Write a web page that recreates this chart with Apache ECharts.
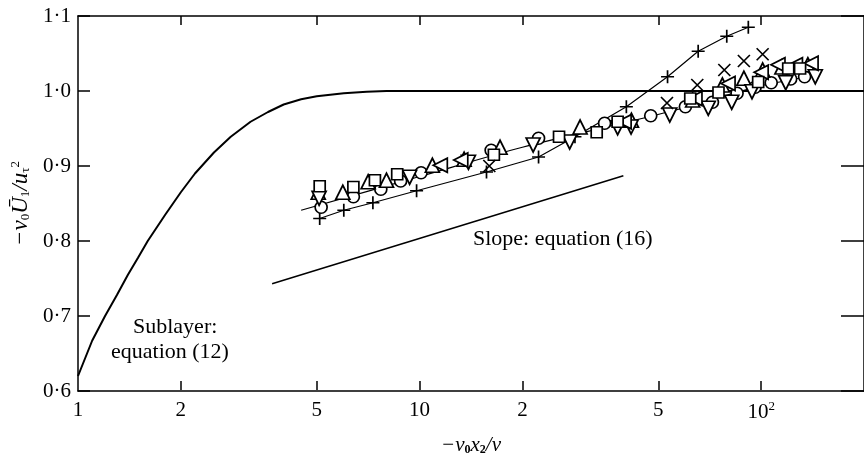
<!DOCTYPE html>
<html>
<head>
<meta charset="utf-8">
<script src="https://cdn.jsdelivr.net/npm/echarts@6/dist/echarts.min.js"></script>
<style>
html, body { margin: 0; padding: 0; background: #fff; }
#main { width: 864px; height: 461px; }
</style>
</head>
<body>
<div id="main"></div>
<script>
// tick values / labels of the log x axis
var xTickValues = [1, 2, 5, 10, 20, 50, 100];
var xTickLabels = ['1', '2', '5', '10', '2', '5', '10{sup|2}'];

// sublayer curve, equation (12)
var sublayerX = [1, 1.1, 1.2, 1.3, 1.4, 1.5, 1.6, 1.8, 2, 2.2, 2.5, 2.8, 3.2, 3.6, 4, 4.5, 5, 6, 7, 8, 10, 200];
var sublayerY = [0.62, 0.667, 0.70, 0.728, 0.755, 0.778, 0.80, 0.835, 0.865, 0.89, 0.918, 0.939, 0.959, 0.972, 0.982, 0.989, 0.993, 0.997, 0.999, 1.0, 1.0, 1.0];

// slope line, equation (16)
var slopeX = [3.7, 39.5];
var slopeY = [0.743, 0.887];

// upper fitted line through the open symbols
var fitX = [4.5, 10, 20, 40, 60, 80, 100, 140];
var fitY = [0.841, 0.886, 0.925, 0.958, 0.978, 0.995, 1.007, 1.02];

// + points (joined by a line)
var plusX = [5.1, 6.0, 7.3, 9.8, 15.7, 22.3, 28.5, 40.3, 53.2, 65.4, 79.3, 91.7];
var plusY = [0.830, 0.841, 0.851, 0.867, 0.892, 0.912, 0.939, 0.979, 1.019, 1.053, 1.073, 1.085];

// open circles
var circleX = [5.15, 6.4, 7.7, 8.8, 10.1, 16.2, 22.3, 34.8, 47.5, 60, 72, 85, 96, 107, 122, 134];
var circleY = [0.845, 0.859, 0.869, 0.880, 0.891, 0.921, 0.937, 0.957, 0.967, 0.979, 0.985, 0.997, 1.005, 1.011, 1.016, 1.019];

// triangles pointing up
var triUpX = [5.05, 5.96, 7.07, 8.0, 10.9, 13.5, 17.2, 29.5, 41.7, 63, 77, 89, 101, 115, 137];
var triUpY = [0.865, 0.865, 0.879, 0.881, 0.901, 0.909, 0.925, 0.952, 0.961, 0.988, 1.008, 1.017, 1.028, 1.032, 1.035];

// triangles pointing down
var triDownX = [5.08, 9.35, 13.9, 21.5, 27.5, 38, 41.6, 54, 70, 82, 94, 118, 144];
var triDownY = [0.857, 0.885, 0.905, 0.928, 0.932, 0.951, 0.952, 0.968, 0.977, 0.985, 0.999, 1.011, 1.019];

// triangles pointing left
var triLeftX = [11.5, 13.2, 39.7, 64, 80, 100, 112, 126, 140];
var triLeftY = [0.901, 0.908, 0.959, 0.99, 1.01, 1.025, 1.035, 1.035, 1.037];

// open squares
var squareX = [5.1, 6.4, 7.4, 8.6, 16.5, 25.6, 33, 38, 62, 75, 98, 120, 130];
var squareY = [0.873, 0.872, 0.881, 0.889, 0.915, 0.939, 0.945, 0.959, 0.99, 0.998, 1.012, 1.03, 1.03];

// x crosses
var crossX = [16, 53, 65, 78, 89, 101];
var crossY = [0.9, 0.984, 1.008, 1.028, 1.04, 1.049];

function zip(xs, ys) {
    return xs.map(function (x, i) { return [x, ys[i]]; });
}

var FONT = 'Liberation Serif';
var plusPath = 'path://M5,0L5,10M0,5L10,5';
var crossPath = 'path://M0,0L10,10M10,0L0,10';

function symbolSeries(name, data, symbol, size, rotate) {
    return {
        name: name,
        type: 'scatter',
        xAxisIndex: 0,
        yAxisIndex: 0,
        symbol: symbol,
        symbolSize: size,
        symbolRotate: rotate || 0,
        itemStyle: { color: '#fff', borderColor: '#000', borderWidth: 1.7, opacity: 1 },
        data: data,
        z: 5
    };
}

var tickLog = xTickValues.map(function (v) { return Math.log10(v); });
var xMax = 200;

var myChart = echarts.init(document.getElementById('main'));

option = {
    backgroundColor: '#fff',
    animation: false,
    grid: [
        { left: 78, right: -12, top: 16, bottom: 70 },
        { left: 78, right: -12, top: 16, bottom: 70 }
    ],
    xAxis: [
        {
            // data axis (log)
            type: 'log',
            logBase: 10,
            min: 1,
            max: xMax,
            gridIndex: 0,
            position: 'bottom',
            axisLine: { lineStyle: { color: '#000', width: 1.5 } },
            axisTick: { show: false },
            axisLabel: { show: false },
            splitLine: { show: false },
            minorTick: { show: false }
        },
        {
            // top frame with mirror ticks
            type: 'value',
            min: 0,
            max: Math.log10(xMax),
            gridIndex: 0,
            position: 'top',
            axisLine: { show: true, lineStyle: { color: '#000', width: 1.5 } },
            axisTick: { show: true, inside: true, length: 9, customValues: tickLog.slice(1), lineStyle: { color: '#000', width: 1.5 } },
            axisLabel: { show: false },
            splitLine: { show: false }
        },
        {
            // bottom ticks and labels
            type: 'value',
            min: 0,
            max: Math.log10(xMax),
            gridIndex: 1,
            position: 'bottom',
            axisLine: { show: false },
            axisTick: { show: true, inside: true, length: 9, customValues: tickLog.slice(1), lineStyle: { color: '#000', width: 1.5 } },
            axisLabel: {
                customValues: tickLog,
                margin: 10,
                color: '#000',
                fontFamily: FONT,
                fontSize: 21,
                formatter: function (v) {
                    for (var i = 0; i < tickLog.length; i++) {
                        if (Math.abs(tickLog[i] - v) < 1e-6) return xTickLabels[i];
                    }
                    return '';
                },
                rich: { sup: { fontFamily: FONT, fontSize: 13, color: '#000', padding: [0, 0, 12, 0] } }
            },
            splitLine: { show: false },
            name: '{t|−v}{s|0}{t|x}{s|2}{t|/ν}',
            nameLocation: 'middle',
            nameGap: 44,
            nameTextStyle: {
                rich: {
                    t: { fontFamily: FONT, fontStyle: 'italic', fontSize: 21, color: '#000' },
                    s: { fontFamily: FONT, fontWeight: 'bold', fontSize: 12, color: '#000', padding: [10, 0, 0, 0] }
                }
            }
        }
    ],
    yAxis: [
        {
            type: 'value',
            min: 0.6,
            max: 1.1,
            interval: 0.1,
            gridIndex: 0,
            position: 'left',
            axisLine: { lineStyle: { color: '#000', width: 1.5 } },
            axisTick: { inside: true, length: 12, lineStyle: { color: '#000', width: 1.5 } },
            axisLabel: {
                margin: 7,
                color: '#000',
                fontFamily: FONT,
                fontSize: 21,
                formatter: function (v) { return v.toFixed(1).replace('.', '·'); }
            },
            splitLine: { show: false },
            name: '{t|−v}{s|0}{t|Ū}{s|1}{t|/u}{s|τ}{p|2}',
            nameLocation: 'middle',
            nameRotate: 90,
            nameGap: 41,
            nameTextStyle: {
                rich: {
                    t: { fontFamily: FONT, fontStyle: 'italic', fontSize: 23, color: '#000' },
                    s: { fontFamily: FONT, fontSize: 13, color: '#000', padding: [10, 0, 0, 0] },
                    p: { fontFamily: FONT, fontSize: 13, color: '#000', padding: [0, 0, 10, 0] }
                }
            }
        },
        {
            type: 'value',
            min: 0.6,
            max: 1.1,
            interval: 0.1,
            gridIndex: 0,
            position: 'right',
            axisLine: { show: true, lineStyle: { color: '#000', width: 1.5 } },
            axisTick: { inside: true, length: 23, lineStyle: { color: '#000', width: 1.5 } },
            axisLabel: { show: false },
            splitLine: { show: false }
        },
        {
            type: 'value',
            min: 0.6,
            max: 1.1,
            gridIndex: 1,
            show: false
        }
    ],
    graphic: [
        { type: 'text', left: 133, top: 316, style: { text: 'Sublayer:', font: '22px "Liberation Serif"', fill: '#000' } },
        { type: 'text', left: 111, top: 341, style: { text: 'equation (12)', font: '22px "Liberation Serif"', fill: '#000' } },
        { type: 'text', left: 473, top: 228, style: { text: 'Slope: equation (16)', font: '22px "Liberation Serif"', fill: '#000' } }
    ],
    series: [
        {
            name: 'sublayer',
            type: 'line',
            xAxisIndex: 0, yAxisIndex: 0,
            showSymbol: false,
            lineStyle: { color: '#000', width: 2 },
            data: zip(sublayerX, sublayerY)
        },
        {
            name: 'slope',
            type: 'line',
            xAxisIndex: 0, yAxisIndex: 0,
            showSymbol: false,
            lineStyle: { color: '#000', width: 1.5 },
            data: zip(slopeX, slopeY)
        },
        {
            name: 'fit',
            type: 'line',
            xAxisIndex: 0, yAxisIndex: 0,
            showSymbol: false,
            smooth: 0.3,
            lineStyle: { color: '#000', width: 1.2 },
            data: zip(fitX, fitY)
        },
        {
            name: 'plus',
            type: 'line',
            xAxisIndex: 0, yAxisIndex: 0,
            symbol: plusPath,
            symbolSize: 13,
            showAllSymbol: true,
            lineStyle: { color: '#000', width: 1.2 },
            itemStyle: { color: '#000', borderColor: '#000', borderWidth: 1.7 },
            data: zip(plusX, plusY),
            z: 4
        },
        symbolSeries('circle', zip(circleX, circleY), 'circle', 12),
        symbolSeries('triUp', zip(triUpX, triUpY), 'triangle', 14),
        symbolSeries('triDown', zip(triDownX, triDownY), 'triangle', 14, 180),
        symbolSeries('triLeft', zip(triLeftX, triLeftY), 'triangle', 14, 90),
        symbolSeries('square', zip(squareX, squareY), 'rect', 11),
        {
            name: 'cross',
            type: 'scatter',
            xAxisIndex: 0, yAxisIndex: 0,
            symbol: crossPath,
            symbolSize: 12,
            itemStyle: { color: '#000', borderColor: '#000', borderWidth: 1.7, opacity: 1 },
            data: zip(crossX, crossY),
            z: 5
        }
    ]
};

if (option && typeof option === 'object') {
    myChart.setOption(option, true);
}
</script>
</body>
</html>
